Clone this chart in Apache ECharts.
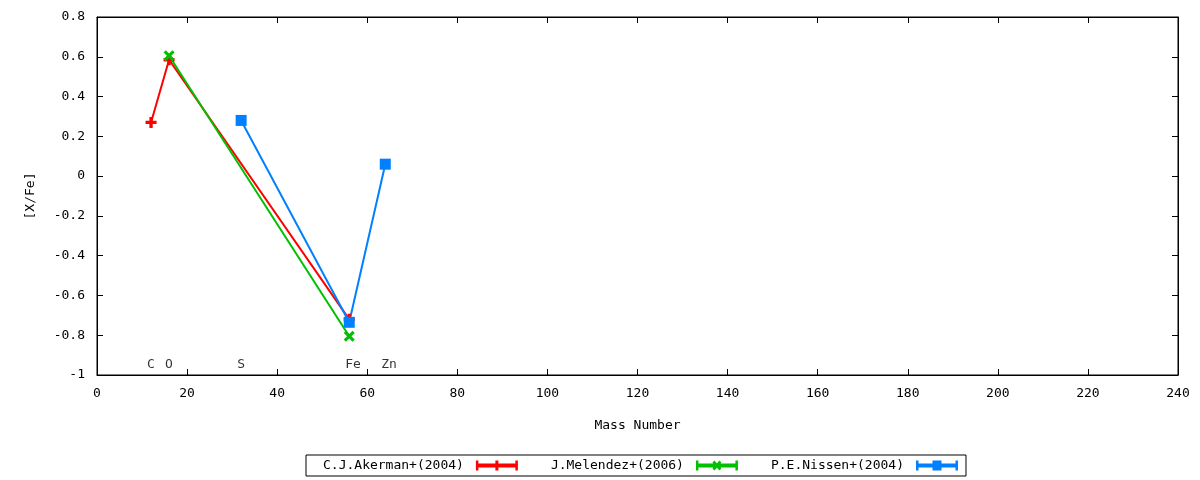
<!DOCTYPE html>
<html><head><meta charset="utf-8">
<script src="https://cdn.jsdelivr.net/npm/echarts@6/dist/echarts.min.js"></script>
<style>html,body{margin:0;padding:0;background:#fff}#c{width:1200px;height:480px}</style>
</head><body><div id="c"></div>
<script>
const akerman = [[12, 0.27], [16, 0.585], [56, -0.72]];
const melendez = [[16, 0.605], [56, -0.805]];
const nissen = [[32, 0.28], [56, -0.735], [64, 0.06]];
const elementNames = ['C', 'O', 'S', 'Fe', 'Zn'];
const elementMass = [12, 16, 32, 56, 64];
const elementLabelY = -0.95;
const seriesNames = ['C.J.Akerman+(2004)', 'J.Melendez+(2006)', 'P.E.Nissen+(2004)'];

const FONT = 'DejaVu Sans Mono';
const plus = 'path://M3.5,0H6.5V3.5H10V6.5H6.5V10H3.5V6.5H0V3.5H3.5Z';
const cross = 'path://M0,2L2,0L5,3L8,0L10,2L7,5L10,8L8,10L5,7L2,10L0,8L3,5Z';
const square = 'rect';

const bar = 'M0,0H2.5V3H39.5V0H42V10H39.5V7H2.5V10H0Z';
const iconRed = 'path://' + bar + 'M19.5,0H22.5V10H19.5Z';
const iconGreen = 'path://' + bar + 'M16.5,2L18.5,0L25.5,8L23.5,10ZM23.5,0L25.5,2L18.5,10L16.5,8Z';
const iconBlue = 'path://' + bar + 'M16.5,0H25.5V10H16.5Z';

const chart = echarts.init(document.getElementById('c'), null, {renderer: 'canvas'});
const axisLine = {show: true, onZero: false, lineStyle: {color: '#000', width: 1}};
const tick = {show: true, inside: true, length: 6, lineStyle: {color: '#000'}};
const mk = (name, data, color, sym, size) => ({
  name, type: 'line', data, symbol: sym, symbolSize: size,
  lineStyle: {color, width: 2}, itemStyle: {color},
  showAllSymbol: true, animation: false
});
chart.setOption({
  animation: false,
  textStyle: {fontFamily: FONT},
  grid: {left: 97, right: 22, top: 17, bottom: 105, show: true, borderColor: '#000', borderWidth: 1},
  xAxis: [{
    type: 'value', min: 0, max: 240, interval: 20,
    name: 'Mass Number', nameLocation: 'middle', nameGap: 44,
    nameTextStyle: {fontFamily: FONT, fontSize: 13, color: '#000'},
    axisLine, axisTick: tick, splitLine: {show: false},
    axisLabel: {color: '#000', fontFamily: FONT, fontSize: 13, margin: 12}
  }, {
    type: 'value', min: 0, max: 240, interval: 20, position: 'top',
    axisLine, axisTick: tick, splitLine: {show: false}, axisLabel: {show: false}
  }],
  yAxis: [{
    type: 'value', min: -1, max: 0.8, interval: 0.2,
    name: '[X/Fe]', nameLocation: 'middle', nameGap: 60, nameRotate: 90,
    nameTextStyle: {fontFamily: FONT, fontSize: 13, color: '#000'},
    axisLine, axisTick: tick, splitLine: {show: false},
    axisLabel: {color: '#000', fontFamily: FONT, fontSize: 13, margin: 12,
      formatter: v => String(Math.round(v * 10) / 10)}
  }, {
    type: 'value', min: -1, max: 0.8, interval: 0.2, position: 'right',
    axisLine, axisTick: tick, splitLine: {show: false}, axisLabel: {show: false}
  }],
  legend: {
    left: 306, top: 455, align: 'right', orient: 'horizontal',
    data: [
      {name: seriesNames[0], icon: iconRed},
      {name: seriesNames[1], icon: iconGreen},
      {name: seriesNames[2], icon: iconBlue}
    ],
    borderColor: '#000', borderWidth: 1, borderRadius: 0,
    padding: [4, 8, 4, 17], itemGap: 33, itemWidth: 42, itemHeight: 10,
    textStyle: {fontFamily: FONT, fontSize: 13, color: '#000', padding: [0, 7, 0, 0]}
  },
  series: [
    mk(seriesNames[0], akerman, '#ff0000', plus, 11),
    mk(seriesNames[1], melendez, '#00c000', cross, 11),
    mk(seriesNames[2], nissen, '#0080ff', square, 11),
    {
      type: 'scatter', symbolSize: 0, silent: true, animation: false,
      data: elementNames.map((n, i) => ({value: [elementMass[i], elementLabelY], name: n})),
      label: {show: true, position: 'right', distance: -4, formatter: p => p.name,
        fontFamily: FONT, fontSize: 13, color: '#000'}
    }
  ]
});
</script></body></html>
